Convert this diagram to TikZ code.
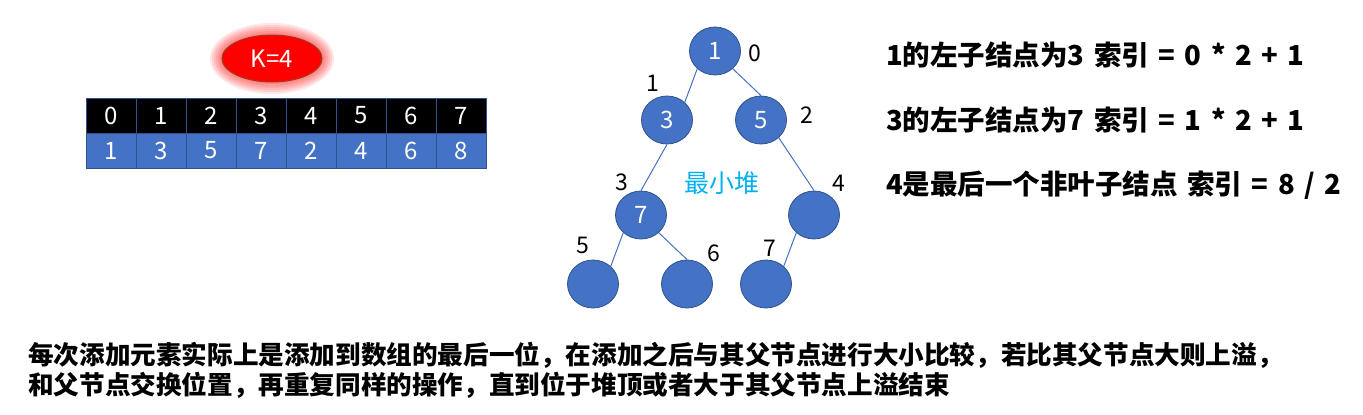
\documentclass[tikz,border=0pt]{standalone}
\usepackage{fontspec}
\newfontfamily\cjk{Noto Sans CJK SC}
\usetikzlibrary{shapes.geometric}
\definecolor{nodeblue}{HTML}{4472C4}
\definecolor{rimblue}{HTML}{2F528F}
\definecolor{heapcyan}{HTML}{00B0F0}
\definecolor{glowred}{HTML}{FF0000}
\definecolor{rimred}{HTML}{9C3A1E}
\newcommand\rulespacing{\spaceskip=9.5pt\relax}

\begin{document}
\begin{tikzpicture}[x=1pt,y=-1pt,
		every node/.style={font=\cjk},
		heapnode/.style={ellipse,fill=nodeblue,draw=rimblue,line width=0.8pt,minimum width=51pt,minimum height=48pt,inner sep=0pt,text=white,font=\cjk\fontsize{24}{24}\selectfont},
		idxcell/.style={draw=rimblue,fill=black,text=white,minimum width=50pt,minimum height=35pt,inner sep=0pt,font=\cjk\fontsize{24}{24}\selectfont},
		valcell/.style={idxcell,fill=nodeblue},
		kbubble/.style={ellipse,fill=glowred,draw=rimred,line width=1pt,minimum width=100pt,minimum height=47pt,inner sep=0pt,text=white,font=\cjk\fontsize{24}{24}\selectfont},
		idxlabel/.style={inner sep=0pt,font=\cjk\fontsize{23}{23}\selectfont},
		edge/.style={draw=nodeblue,line width=1pt},
		rule/.style={anchor=west,inner sep=0pt,font=\cjk\bfseries\fontsize{27.5}{27.5}\selectfont\rulespacing},
		note/.style={anchor=west,inner sep=0pt,font=\cjk\bfseries\fontsize{25.6}{25.6}\selectfont}]
		\useasboundingbox (0,0) rectangle (1363,415);
		% K bubble with its glow
		\foreach \g in {1,...,6}
			\fill [glowred,opacity=0.1] (272,58.5) ellipse [x radius=50pt+2pt*\g, y radius=23.5pt+2pt*\g];
		\node[kbubble] (kval) at (272,58.5) {K=4};
		% array: index row and value row
		\foreach \i/\v in {0/1,1/3,2/5,3/7,4/2,5/4,6/6,7/8}{
			\node[idxcell] (idx\i) at ({111+50*\i},115.5) {\i};
			\node[valcell] (val\i) at ({111+50*\i},150.5) {\v};
		}
		% heap
		\node[heapnode] (n0) at (715,51) {1};
		\node[heapnode] (n1) at (667,120) {3};
		\node[heapnode] (n2) at (761,120) {5};
		\node[heapnode] (n3) at (641,215) {7};
		\node[heapnode] (n4) at (814,215) {};
		\node[heapnode] (n5) at (593,284) {};
		\node[heapnode] (n6) at (687,284) {};
		\node[heapnode] (n7) at (766,284) {};
		\draw[edge] (n0.225) -- (n1.45);
		\draw[edge] (n0.-45) -- (n2.north);
		\draw[edge] (n1.south) -- (n3.north);
		\draw[edge] (n2.-45) -- (n4.north);
		\draw[edge] (n3.225) -- (n5.45);
		\draw[edge] (n3.-45) -- (n6.north);
		\draw[edge] (n4.225) -- (n7.45);
		\foreach \k/\x/\y in {0/755/53,1/653/83,2/807/115,3/622/182,4/839/183,5/583/245,6/714/253,7/770/248}
			\node[idxlabel] (l\k) at (\x,\y) {\k};
		\node[text=heapcyan,inner sep=0pt,font=\cjk\fontsize{25}{25}\selectfont] (heapname) at (722,183) {最小堆};
		% index rules
		\node[rule] (rule1) at (886,55) {1的左子结点为3 索引 = 0 * 2 + 1};
		\node[rule] (rule2) at (886,120) {3的左子结点为7 索引 = 1 * 2 + 1};
		\node[rule] (rule3) at (886,185) {4是最后一个非叶子结点 索引 = 8 / 2};
		% explanation
		\node[note] (note1) at (28,355) {每次添加元素实际上是添加到数组的最后一位，在添加之后与其父节点进行大小比较，若比其父节点大则上溢，};
		\node[note] (note2) at (28,385) {和父节点交换位置，再重复同样的操作，直到位于堆顶或者大于其父节点上溢结束};
\end{tikzpicture}
\end{document}
